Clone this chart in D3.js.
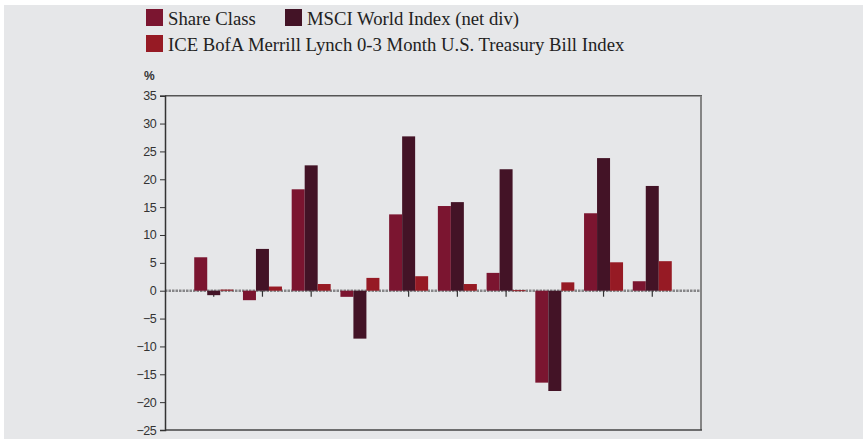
<!DOCTYPE html>
<html>
<head>
<meta charset="utf-8">
<script src="https://cdn.jsdelivr.net/npm/d3@7"></script>
<style>
  body { margin: 0; background: #fff; }
  svg { display: block; }
</style>
</head>
<body>
<div id="chart"></div>
<script>
// data (%, ten yearly periods)
const categories = ["1", "2", "3", "4", "5", "6", "7", "8", "9", "10"]
const shareClass = [6.0, -1.7, 18.2, -1.1, 13.7, 15.2, 3.2, -16.5, 13.9, 1.7]
const msciWorld = [-0.8, 7.5, 22.5, -8.6, 27.7, 15.9, 21.8, -18.0, 23.8, 18.8]
const iceBofa = [0.2, 0.75, 1.2, 2.3, 2.6, 1.2, 0.1, 1.5, 5.1, 5.3]
const yTicks = [35, 30, 25, 20, 15, 10, 5, 0, -5, -10, -15, -20, -25]

const SERIES = [
  { name: "Share Class", values: shareClass, color: "#7b1530" },
  { name: "MSCI World Index (net div)", values: msciWorld, color: "#431326" },
  { name: "ICE BofA Merrill Lynch 0-3 Month U.S. Treasury Bill Index", values: iceBofa, color: "#961a24" }
]

const W = 863, H = 439
const plot = { left: 165, right: 701, top: 95.7, bottom: 430 }

const svg = d3.select("#chart").append("svg")
  .attr("width", W)
  .attr("height", H)

// grey panel
svg.append("rect")
  .attr("x", 4).attr("y", 5)
  .attr("width", W - 4).attr("height", H - 5)
  .attr("fill", "#e6e7e9")

var y = d3.scaleLinear()
  .domain([-25, 35])
  .range([plot.bottom, plot.top])

var x = d3.scalePoint()
  .domain(categories)
  .range([plot.left, plot.right])
  .padding(1)

var barW = 13
var inner = d3.scaleBand()
  .domain(SERIES.map(s => s.name))
  .range([-barW * 1.5, barW * 1.5])

// zero line (dotted)
svg.append("line")
  .attr("x1", plot.left).attr("x2", plot.right)
  .attr("y1", y(0)).attr("y2", y(0))
  .attr("stroke", "#868688")
  .attr("stroke-width", 2.5)
  .attr("stroke-dasharray", "2.5,1")

// category ticks under the zero line
svg.append("g")
  .selectAll("line")
  .data(categories)
  .join("line")
  .attr("x1", d => x(d)).attr("x2", d => x(d))
  .attr("y1", y(0)).attr("y2", y(0) + 6)
  .attr("stroke", "#333")
  .attr("stroke-width", 1.2)

// bars
for (let s of SERIES) {
  svg.append("g")
    .attr("fill", s.color)
    .selectAll("rect")
    .data(s.values.map((v, i) => ({ cat: categories[i], v: v })))
    .join("rect")
    .attr("x", d => x(d.cat) + inner(s.name))
    .attr("width", inner.bandwidth())
    .attr("y", d => y(Math.max(0, d.v)))
    .attr("height", d => Math.max(1, Math.abs(y(d.v) - y(0))))
}

// plot frame
svg.append("line")
  .attr("x1", plot.left).attr("x2", plot.right + 1)
  .attr("y1", plot.top).attr("y2", plot.top)
  .attr("stroke", "#555").attr("stroke-width", 1.5)
svg.append("line")
  .attr("x1", plot.right).attr("x2", plot.right)
  .attr("y1", plot.top).attr("y2", plot.bottom)
  .attr("stroke", "#858585").attr("stroke-width", 2)
svg.append("line")
  .attr("x1", plot.left).attr("x2", plot.right + 1)
  .attr("y1", plot.bottom).attr("y2", plot.bottom)
  .attr("stroke", "#444").attr("stroke-width", 1.5)

// y axis
var yAxis = svg.append("g")
  .attr("transform", "translate(" + plot.left + ",0)")
  .call(d3.axisLeft(y).tickValues(yTicks).tickSize(5).tickPadding(4))
yAxis.select(".domain").attr("stroke", "#333").attr("stroke-width", 1.5)
yAxis.selectAll(".tick line").attr("stroke", "#333")
yAxis.selectAll(".tick text")
  .attr("fill", "#333")
  .style("font-family", "'Liberation Sans', Arial, sans-serif")
  .style("font-size", "12.5px")
  .style("letter-spacing", "-0.6px")

svg.append("text")
  .attr("x", 144).attr("y", 80)
  .attr("fill", "#333")
  .style("font-family", "'Liberation Sans', Arial, sans-serif")
  .style("font-size", "12px")
  .style("font-weight", "bold")
  .text("%")

// legend
const LEGEND = [
  { s: SERIES[0], x: 146, y: 9 },
  { s: SERIES[1], x: 285, y: 9 },
  { s: SERIES[2], x: 146, y: 35 }
]
var lg = svg.append("g")
for (let l of LEGEND) {
  lg.append("rect")
    .attr("x", l.x).attr("y", l.y)
    .attr("width", 17).attr("height", 17)
    .attr("fill", l.s.color)
  lg.append("text")
    .attr("x", l.x + 22).attr("y", l.y + 16)
    .attr("fill", "#222")
    .style("font-family", "'Liberation Serif', 'Times New Roman', serif")
    .style("font-size", "18.7px")
    .text(l.s.name)
}
</script>
</body>
</html>
